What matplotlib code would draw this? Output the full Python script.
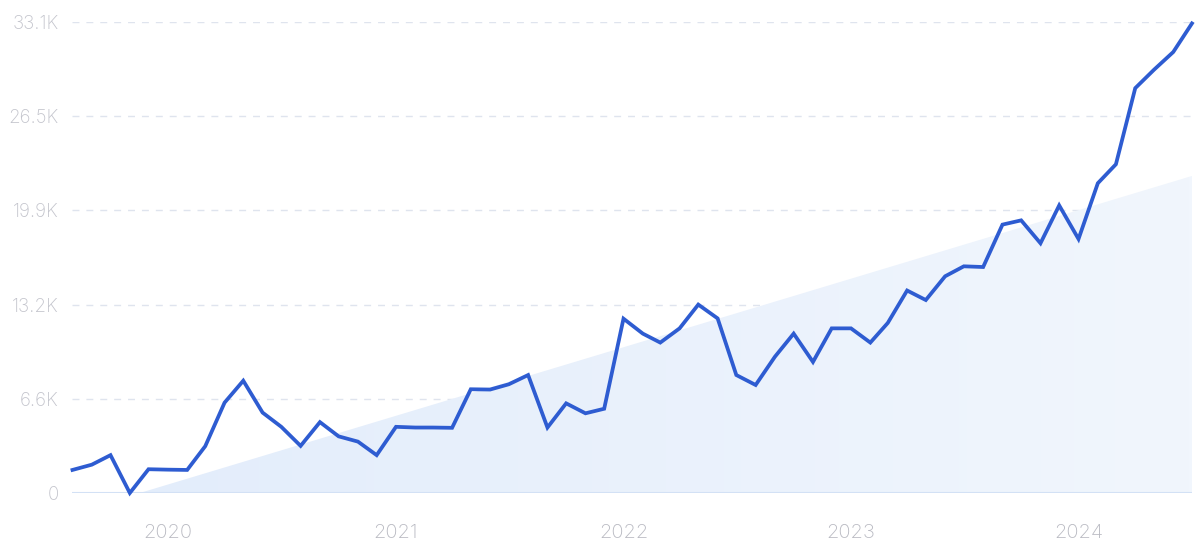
import numpy as np
import pandas as pd
import matplotlib
matplotlib.use("Agg")
import matplotlib.pyplot as plt
import matplotlib.dates as mdates
from matplotlib.ticker import FixedLocator, FixedFormatter

# monthly search volume, Aug 2019 - Jul 2024
months = pd.date_range("2019-08-01", periods=60, freq="MS")
volume = [1620, 1990, 2660, 0, 1670, 1640, 1620, 3290, 6350, 7890,
          5650, 4650, 3310, 4980, 3980, 3610, 2660, 4650, 4600, 4600,
          4580, 7290, 7270, 7640, 8290, 4600, 6300, 5600, 5920, 12250,
          11200, 10570, 11570, 13240, 12270, 8290, 7590, 9580, 11200, 9210,
          11570, 11570, 10570, 11950, 14230, 13560, 15230, 15930, 15880, 18860,
          19160, 17550, 20210, 17850, 21770, 23100, 28450, 29740, 30990, 33000]

# trend band: starts at zero mid Nov 2019, ends at last month
trend_dates = ["2019-11-17", "2024-07-01"]
trend_values = [0, 22280]

y_ticks = [0, 6620, 13240, 19860, 26480, 33100]
y_labels = ["0", "6.6K", "13.2K", "19.9K", "26.5K", "33.1K"]
year_ticks = ["2020-01-01", "2021-01-01", "2022-01-01", "2023-01-01", "2024-01-01"]
year_labels = ["2020", "2021", "2022", "2023", "2024"]

plt.rcParams["font.family"] = ["Inter", "DejaVu Sans"]

fig = plt.figure(figsize=(12, 5.58), dpi=100)
ax = fig.add_axes([0.0604, 0.1165, 0.9329, 0.8441])

# trend area with a soft gradient
td = mdates.date2num(pd.to_datetime(trend_dates))
poly = ax.fill_between(td, [0, 0], trend_values, color="none", lw=0)
grad = np.linspace(0, 1, 256).reshape(1, -1)
img = ax.imshow(grad, extent=[td[0], td[1], 0, trend_values[1]], aspect="auto",
                cmap=matplotlib.colors.LinearSegmentedColormap.from_list(
                    "g", ["#e3edfb", "#f1f6fd"]), origin="lower", zorder=1)
img.set_clip_path(poly.get_paths()[0], transform=ax.transData)

# grid lines
for v in y_ticks[1:]:
    ax.axhline(v, color="#dfe4ee", lw=1, ls=(0, (5, 5)), zorder=0)
ax.axhline(0, color="#d3e1f5", lw=1.5, zorder=2)

ax.plot(mdates.date2num(months), volume, color="#2e5cd1", lw=2.7,
        solid_joinstyle="miter", zorder=3, clip_on=False)

ax.set_xlim(mdates.date2num(months[0]), mdates.date2num(months[-1]))
ax.set_ylim(0, 33100)

ax.yaxis.set_major_locator(FixedLocator(y_ticks))
ax.yaxis.set_major_formatter(FixedFormatter(y_labels))
ax.xaxis.set_major_locator(FixedLocator(mdates.date2num(pd.to_datetime(year_ticks))))
ax.xaxis.set_major_formatter(FixedFormatter(year_labels))
ax.tick_params(axis="y", length=0, pad=10, labelsize=13.5, labelcolor="#c3c4cc")
ax.tick_params(axis="x", length=0, pad=22, labelsize=14.5, labelcolor="#b9bac2")
for lab in ax.get_xticklabels() + ax.get_yticklabels():
    lab.set_fontweight("light")

for spine in ax.spines.values():
    spine.set_visible(False)

fig.savefig("out.png", dpi=100)
